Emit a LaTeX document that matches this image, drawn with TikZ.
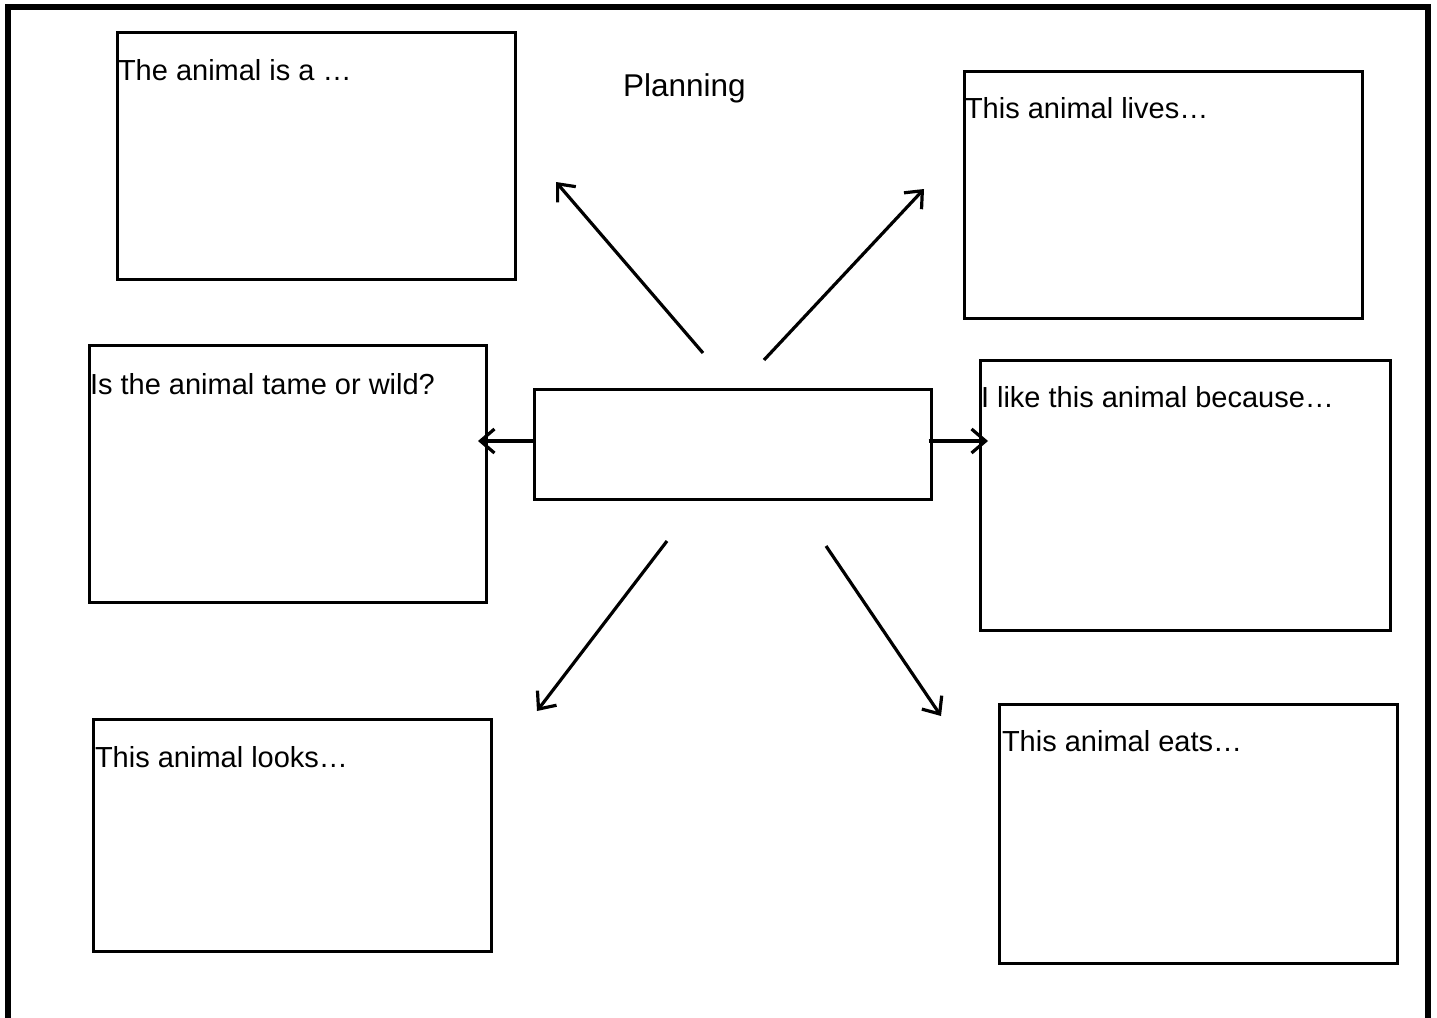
\documentclass[tikz,border=0pt]{standalone}
\usepackage{fontspec}
\setmainfont{Liberation Sans}
\usetikzlibrary{arrows.meta}
\begin{document}
\begin{tikzpicture}[x=1pt,y=-1pt,
  box/.style={draw=black,line width=3.2pt,inner sep=0pt,outer sep=0pt,fill=none},
  lbl/.style={anchor=base west,inner sep=0pt,outer sep=0pt,font=\fontsize{29}{35}\selectfont},
  arr/.style={line width=3.2pt,-{Straight Barb[length=14pt,width=24pt,line width=3.2pt]}}]
\useasboundingbox (0,0) rectangle (1437,1017);
\fill[white] (0,0) rectangle (1437,1017);
% outer frame
\draw[line width=6pt] (7.5,1030) -- (7.5,7) -- (1428,7) -- (1428,1030);
% boxes
\node[box,minimum width=398pt,minimum height=247pt] (b1) at (316.5,156) {};
\node[box,minimum width=398pt,minimum height=247pt] (b2) at (1163.5,195) {};
\node[box,minimum width=397pt,minimum height=257pt] (b3) at (288,474) {};
\node[box,minimum width=397pt,minimum height=110pt] (ctr) at (733,444.5) {};
\node[box,minimum width=410pt,minimum height=270pt] (b5) at (1185.5,495.5) {};
\node[box,minimum width=398pt,minimum height=232pt] (b6) at (292.5,835.5) {};
\node[box,minimum width=398pt,minimum height=259pt] (b7) at (1198.5,834) {};
% labels
\node[lbl,font=\fontsize{31.5}{37}\selectfont] (title) at (623,96) {Planning};
\node[lbl] (t1) at (118,80) {The animal is a …};
\node[lbl] (t2) at (965,118) {This animal lives…};
\node[lbl] (t3) at (90,394) {Is the animal tame or wild?};
\node[lbl] (t5) at (981,407) {I like this animal because…};
\node[lbl] (t6) at (95,767) {This animal looks…};
\node[lbl] (t7) at (1002,751) {This animal eats…};
% arrow coordinates
\coordinate (s1) at (703,353); \coordinate (e1) at (556,182);
\coordinate (s2) at (764,360); \coordinate (e2) at (924,189);
\coordinate (e3) at (478,441);
\coordinate (e4) at (988,441);
\coordinate (s5) at (667,541); \coordinate (e5) at (537,711);
\coordinate (s6) at (826,546); \coordinate (e6) at (941,716);
\draw[arr] (s1) -- (e1);
\draw[arr] (s2) -- (e2);
\draw[arr] (ctr.west |- e3) -- (e3);
\draw[arr] ([xshift=-3pt]ctr.east |- e4) -- (e4);
\draw[arr] (s5) -- (e5);
\draw[arr] (s6) -- (e6);
\end{tikzpicture}
\end{document}
